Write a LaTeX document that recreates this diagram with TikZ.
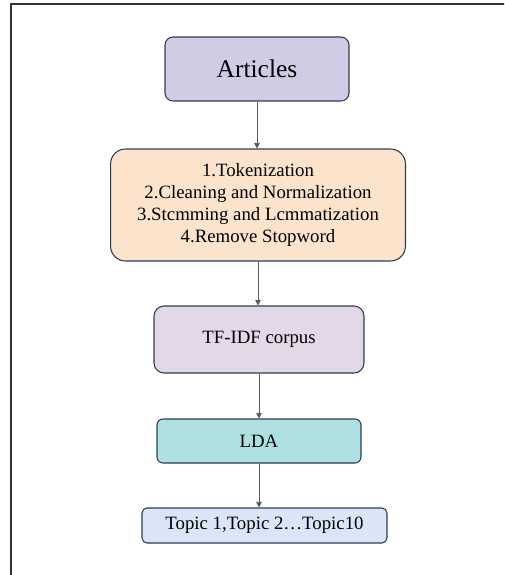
\documentclass[tikz,border=0pt]{standalone}
\usepackage{fontspec}
\setmainfont{Liberation Serif}
\usepackage{xcolor}
\usetikzlibrary{arrows.meta,positioning}
\definecolor{edgeblue}{HTML}{2E3A57}
\definecolor{artfill}{HTML}{CFCCE3}
\definecolor{prefill}{HTML}{FCE4CC}
\definecolor{tffill}{HTML}{E2D8E8}
\definecolor{ldafill}{HTML}{AEE0E2}
\definecolor{topfill}{HTML}{DAE5F7}
\tikzset{
  stage/.style={rectangle,draw=edgeblue,line width=.6pt,align=center,inner sep=1pt,
    font=\fontsize{10.7}{12.6}\selectfont},
  artbox/.style={stage,fill=artfill,rounded corners=1.6mm,minimum width=3.68cm,minimum height=1.28cm,
    font=\fontsize{14.5}{16}\selectfont},
  prebox/.style={stage,fill=prefill,rounded corners=3mm,minimum width=5.9cm,minimum height=2.24cm},
  tfbox/.style={stage,fill=tffill,rounded corners=2mm,minimum width=4.2cm,minimum height=1.34cm},
  ldabox/.style={stage,fill=ldafill,rounded corners=1.2mm,minimum width=4.08cm,minimum height=.88cm},
  topbox/.style={stage,fill=topfill,rounded corners=1mm,minimum width=4.9cm,minimum height=.7cm},
  flow/.style={line width=.5pt,gray!70!black,-{Triangle[length=3.2pt,width=3.2pt]}},
  frame/.style={line width=.85pt,black!80}
}
\begin{document}
\begin{tikzpicture}[x=0.02cm,y=-0.02cm]
  \useasboundingbox (0,0) rectangle (504,575);
  \begin{scope}
    \clip (0,0) rectangle (504,575);
    \draw[frame] (11,600) -- (11,4) -- (540,4);
  \end{scope}

  \node[artbox] (art) at (257,69) {Articles};
  \node[prebox] (pre) at (258,205) {1.Tokenization\\2.Cleaning and Normalization\\3.Stcmming and Lcmmatization\\4.Remove Stopword};
  \node[tfbox] (tf) at (259,339.5) {TF-IDF corpus};
  \node[ldabox] (lda) at (259,441) {LDA};
  \node[topbox] (top) at (264.5,525.5) {Topic 1,Topic 2\ldots Topic10};

  \draw[flow] (art.south) -- (art.south |- pre.north);
  \draw[flow] (pre.south) -- (pre.south |- tf.north);
  \draw[flow] (tf.south) -- (tf.south |- lda.north);
  \draw[flow] (lda.south) -- (lda.south |- top.north);
\end{tikzpicture}
\end{document}
